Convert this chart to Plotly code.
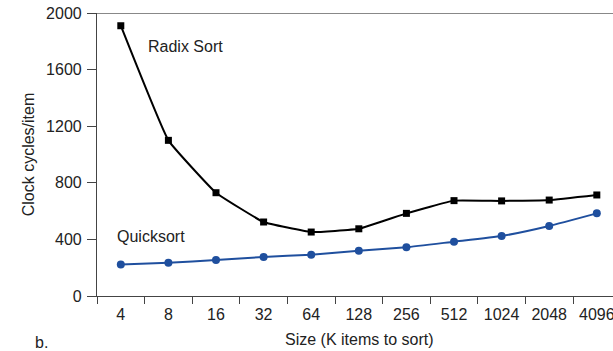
import plotly.graph_objects as go

sizes = ["4", "8", "16", "32", "64", "128", "256", "512", "1024", "2048", "4096"]
radix = [1910, 1100, 730, 523, 452, 475, 584, 674, 672, 678, 714]
quick = [222, 235, 254, 276, 292, 320, 344, 384, 424, 495, 584]
y_ticks = [0, 400, 800, 1200, 1600, 2000]

FONT = "Liberation Sans, Arial, sans-serif"

fig = go.Figure()
fig.add_trace(go.Scatter(
    x=sizes, y=radix, mode="lines+markers", name="Radix Sort",
    line=dict(color="black", width=2, shape="spline", smoothing=0.3),
    marker=dict(symbol="square", size=7, color="black"),
))
fig.add_trace(go.Scatter(
    x=sizes, y=quick, mode="lines+markers", name="Quicksort",
    line=dict(color="#1f4f9e", width=2, shape="spline", smoothing=0.4),
    marker=dict(symbol="circle", size=8, color="#1f4f9e"),
))

fig.update_layout(
    width=613, height=351,
    margin=dict(l=97, r=0, t=13, b=55),
    paper_bgcolor="white", plot_bgcolor="white",
    showlegend=False,
    font=dict(family=FONT, size=16, color="#222"),
    xaxis=dict(
        type="category", range=[-0.5, 10.34], automargin=False,
        tickson="boundaries", ticks="outside", ticklen=7, tickcolor="#444",
        showline=True, linecolor="#444", linewidth=1.2,
        showgrid=False, zeroline=False, ticklabelstandoff=4,
        tickfont=dict(size=16),
    ),
    yaxis=dict(
        range=[0, 2000], tickvals=y_ticks, automargin=False,
        ticks="outside", ticklen=9, tickcolor="#444", ticklabeloverflow="allow",
        showline=True, linecolor="#444", linewidth=1.2,
        showgrid=False, zeroline=False, ticklabelstandoff=2,
        title=dict(text="Clock cycles/item", font=dict(size=16), standoff=7),
        tickfont=dict(size=16),
    ),
    shapes=[dict(type="line", xref="paper", yref="y", x0=0, x1=1, y0=2000, y1=2000,
                 line=dict(color="#888", width=2))],
    annotations=[
        dict(text="Radix Sort", xref="x", yref="y", x=0.52, y=1760, showarrow=False,
             xanchor="left", yanchor="middle", font=dict(size=16, color="#222")),
        dict(text="Quicksort", xref="x", yref="y", x=-0.12, y=417, showarrow=False,
             xanchor="left", yanchor="middle", font=dict(size=16, color="#222")),
        dict(text="Size (K items to sort)", xref="paper", yref="paper", x=0.5078, y=-0.152,
             xanchor="center", yanchor="middle", showarrow=False,
             font=dict(size=16, color="#222")),
        dict(text="b.", xref="paper", yref="paper", x=-0.1085, y=-0.165, xanchor="center",
             yanchor="middle", showarrow=False, font=dict(size=16, color="#222")),
    ],
)

fig.write_html("out.html", config={"displayModeBar": False},
               post_script="document.body.style.margin='0';")
